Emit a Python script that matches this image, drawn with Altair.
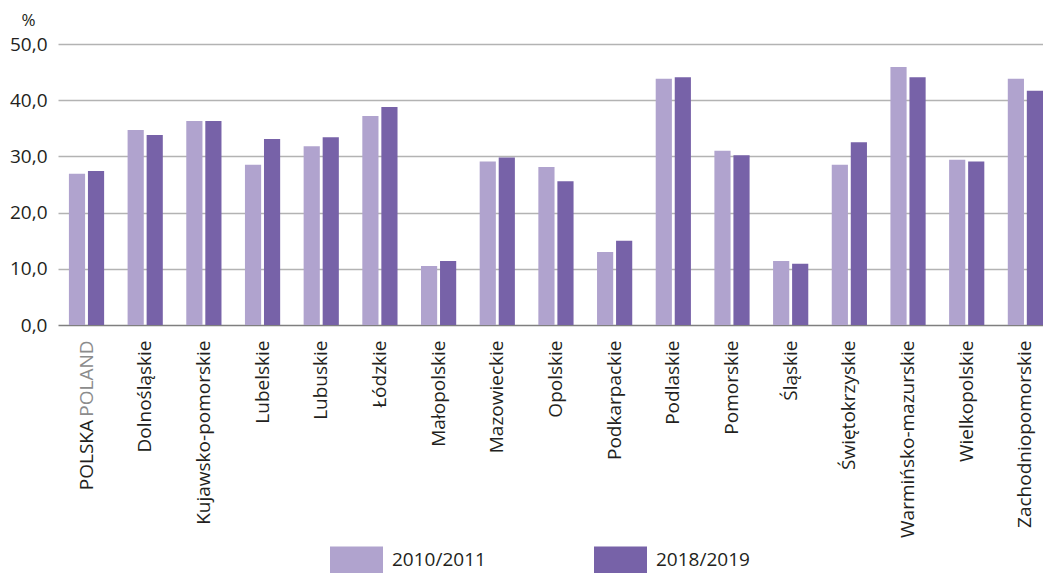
import altair as alt
import pandas as pd

regions = ["POLSKA POLAND", "Dolnośląskie", "Kujawsko-pomorskie", "Lubelskie", "Lubuskie",
           "Łódzkie", "Małopolskie", "Mazowieckie", "Opolskie", "Podkarpackie", "Podlaskie",
           "Pomorskie", "Śląskie", "Świętokrzyskie", "Warmińsko-mazurskie", "Wielkopolskie",
           "Zachodniopomorskie"]
years = ["2010/2011", "2018/2019"]
v2010 = [26.9, 34.7, 36.3, 28.5, 31.8, 37.2, 10.5, 29.1, 28.1, 13.0, 43.8, 31.0, 11.4, 28.5, 45.9, 29.4, 43.8]
v2018 = [27.4, 33.8, 36.3, 33.1, 33.4, 38.8, 11.4, 29.8, 25.6, 15.0, 44.1, 30.2, 10.9, 32.5, 44.1, 29.1, 41.7]
y_ticks = [0, 10, 20, 30, 40, 50]

rows = []
for r, a, b in zip(regions, v2010, v2018):
    rows.append({"region": r, "year": years[0], "value": a})
    rows.append({"region": r, "year": years[1], "value": b})
df = pd.DataFrame(rows)

W = 985
H = 281
FONT = "Open Sans"
TXT = "#231F20"
LIGHT = "#B0A3CE"
DARK = "#7762A8"

xscale = alt.Scale(domain=regions, paddingInner=0.4, paddingOuter=0.093, align=1)

bars = alt.Chart(df).mark_bar().encode(
    x=alt.X("region:N", sort=regions, scale=xscale,
            axis=alt.Axis(title=None, labelAngle=-90, labelAlign="right", labelBaseline="middle",
                          labelPadding=15, labelFontSize=19, labelFont=FONT,
                          labelColor={"condition": {"test": "datum.value == 'POLSKA POLAND'", "value": "#8C8C8C"},
                                      "value": TXT},
                          labelExpr="datum.value == 'POLSKA POLAND' ? 'POLAND' : datum.value",
                          ticks=False, domain=False, grid=False, labelLimit=400)),
    xOffset=alt.XOffset("year:N", sort=years, scale=alt.Scale(paddingInner=0.15)),
    y=alt.Y("value:Q", scale=alt.Scale(domain=[0, 50], nice=False),
            axis=alt.Axis(values=y_ticks, labelExpr="replace(format(datum.value, '.1f'), '.', ',')",
                          labelFontSize=19, labelFont=FONT, labelColor=TXT, labelPadding=11,
                          ticks=False, domain=False, grid=True,
                          gridColor={"condition": {"test": "datum.value === 0", "value": "#7F7F7F"},
                                     "value": "#B3B3B3"},
                          gridWidth=1.6,
                          title="%", titleAngle=0, titleFontSize=17, titleFont=FONT, titleColor=TXT,
                          titleFontWeight="normal", titleX=-30, titleY=-24, titleAlign="center",
                          titleBaseline="middle")),
    color=alt.Color("year:N", scale=alt.Scale(domain=years, range=[LIGHT, DARK]),
                    legend=alt.Legend(title=None, orient="none", legendX=272, legendY=208 + H,
                                      direction="horizontal", symbolType="M-1,-0.51H1V0.51H-1Z",
                                      symbolSize=2809, symbolStrokeWidth=0, symbolOpacity=1,
                                      labelFontSize=19, labelFont=FONT, labelColor=TXT,
                                      labelOffset=9, columnPadding=108)),
)

polska = alt.Chart(pd.DataFrame({"region": ["POLSKA POLAND"], "label": ["POLSKA"]})).mark_text(
    angle=270, align="right", baseline="middle", fontSize=19, font=FONT, color=TXT
).encode(
    x=alt.X("region:N", scale=xscale),
    y=alt.value(H + 95),
    text="label:N",
)

chart = alt.layer(bars, polska).properties(
    width=W, height=H,
    autosize=alt.AutoSizeParams(type="none"),
    padding={"left": 50, "top": 36, "right": 0, "bottom": 250},
).configure_view(stroke=None)

chart.save("out.html", embed_options={"renderer": "svg", "actions": False})
